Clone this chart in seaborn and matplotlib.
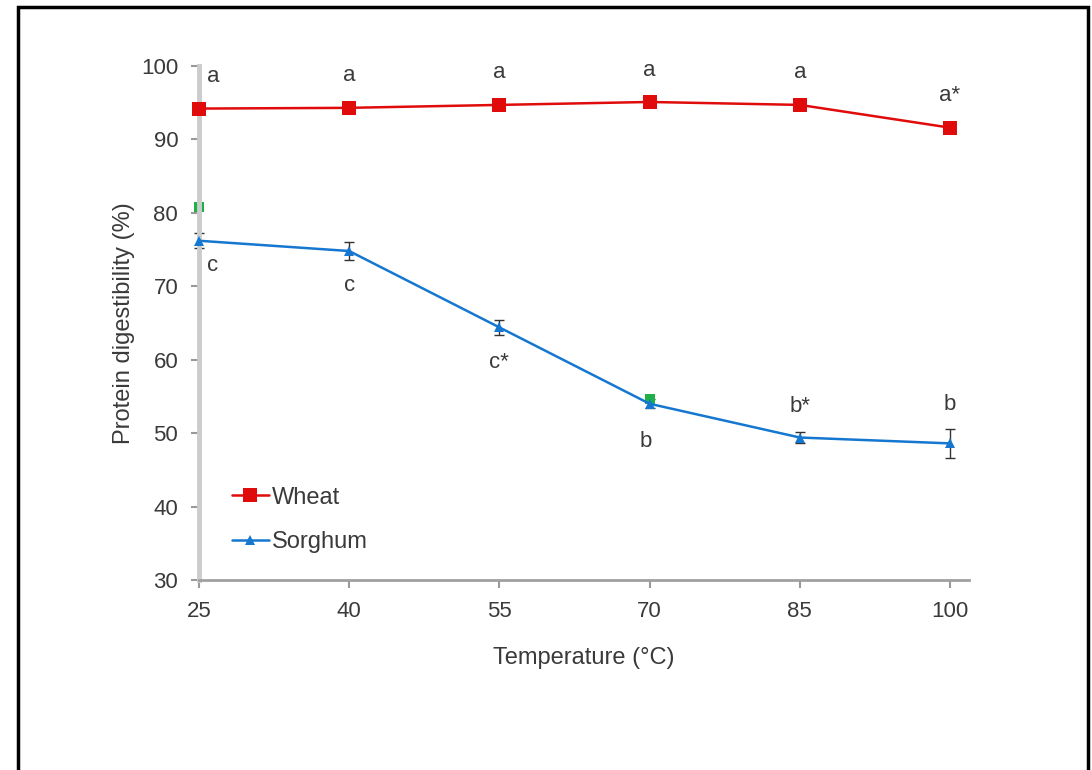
import matplotlib
matplotlib.use("Agg")
import matplotlib.pyplot as plt
import matplotlib.patches as mpatches
import seaborn as sns
import pandas as pd

# values
temperatures = [25, 40, 55, 70, 85, 100]
wheat = [94.2, 94.3, 94.7, 95.1, 94.7, 91.6]
sorghum = [76.2, 74.8, 64.4, 54.0, 49.4, 48.6]
sorghum_err = [1.0, 1.2, 1.0, 0.6, 0.8, 2.0]
wheat_letters = ["a", "a", "a", "a", "a", "a*"]
sorghum_letters = ["c", "c", "c*", "b", "b*", "b"]
green_temps = [25, 70]
green_vals = [80.8, 54.7]

RED = "#e00b0b"
BLUE = "#1577cf"
TEXT = "#3a3a3a"
FONT = 16

sns.set_style("white")
plt.rcParams["font.family"] = ["Liberation Sans", "DejaVu Sans"]

df = pd.DataFrame({
    "Temperature": temperatures * 2,
    "Digestibility": wheat + sorghum,
    "Cereal": ["Wheat"] * 6 + ["Sorghum"] * 6,
})

fig = plt.figure(figsize=(10.92, 7.70), dpi=100)
ax = fig.add_axes([0.1822, 0.2468, 0.8874 - 0.1822, 0.9143 - 0.2468])

# error bars first so the markers sit on top
ax.errorbar(temperatures, sorghum, yerr=sorghum_err, fmt="none", ecolor="#333333",
            elinewidth=1, capsize=3, capthick=1, zorder=2)

sns.scatterplot(x=green_temps, y=green_vals, color="#1fb04a", marker="s", s=50,
                linewidth=0, ax=ax, zorder=2.5)

sns.lineplot(data=df, x="Temperature", y="Digestibility", hue="Cereal", style="Cereal",
             palette={"Wheat": RED, "Sorghum": BLUE},
             markers={"Wheat": "s", "Sorghum": "^"}, dashes=False,
             linewidth=1.8, markeredgewidth=0, errorbar=None, ax=ax, zorder=3)
for line in ax.lines:
    line.set_clip_on(False)
    if line.get_color() == RED:
        line.set_markersize(10)
    else:
        line.set_markersize(7.5)
for coll in ax.collections:
    coll.set_clip_on(False)

# significance letters
for t, v, lab in zip(temperatures, wheat, wheat_letters):
    dx = 10 if t == 25 else 0
    ax.annotate(lab, (t, v), xytext=(dx, 23), textcoords="offset points",
                ha="center", va="center", fontsize=FONT, color=TEXT)
sorghum_offsets = [(10, -18), (0, -25), (0, -25), (-3, -27), (0, 22), (0, 28)]
for t, v, lab, off in zip(temperatures, sorghum, sorghum_letters, sorghum_offsets):
    ax.annotate(lab, (t, v), xytext=off, textcoords="offset points",
                ha="center", va="center", fontsize=FONT, color=TEXT)

ax.set_xlim(25, 101.9)
ax.set_ylim(30, 100)
ax.set_xticks(temperatures)
ax.set_yticks(range(30, 101, 10))
ax.set_xlabel("Temperature (°C)", fontsize=FONT + 1, color=TEXT, labelpad=18)
ax.set_ylabel("Protein digestibility (%)", fontsize=FONT + 1, color=TEXT, labelpad=4)
ax.tick_params(axis="both", direction="out", length=6, width=1.5, color="#999999",
               labelsize=FONT, labelcolor=TEXT, pad=9)
ax.tick_params(axis="both", which="both", bottom=True, left=True)

sns.despine(ax=ax)
ax.spines["left"].set_color("#cccccc")
ax.spines["left"].set_linewidth(3.5)
ax.spines["bottom"].set_color("#a0a0a0")
ax.spines["bottom"].set_linewidth(2)

handles, labels = ax.get_legend_handles_labels()
ax.legend(handles, labels, loc="upper left", bbox_to_anchor=(0.03, 0.20), frameon=False,
          fontsize=FONT + 1, handlelength=1.6, handletextpad=0.1, labelspacing=0.95,
          labelcolor=TEXT, borderaxespad=0)

# outer black frame of the original figure
fig.patches.append(mpatches.Rectangle((18 / 1092, -0.05), 1070 / 1092, 1 - 7 / 770 + 0.05,
                                      transform=fig.transFigure, fill=False,
                                      edgecolor="black", linewidth=2.5))

fig.savefig("out.png", dpi=100)
